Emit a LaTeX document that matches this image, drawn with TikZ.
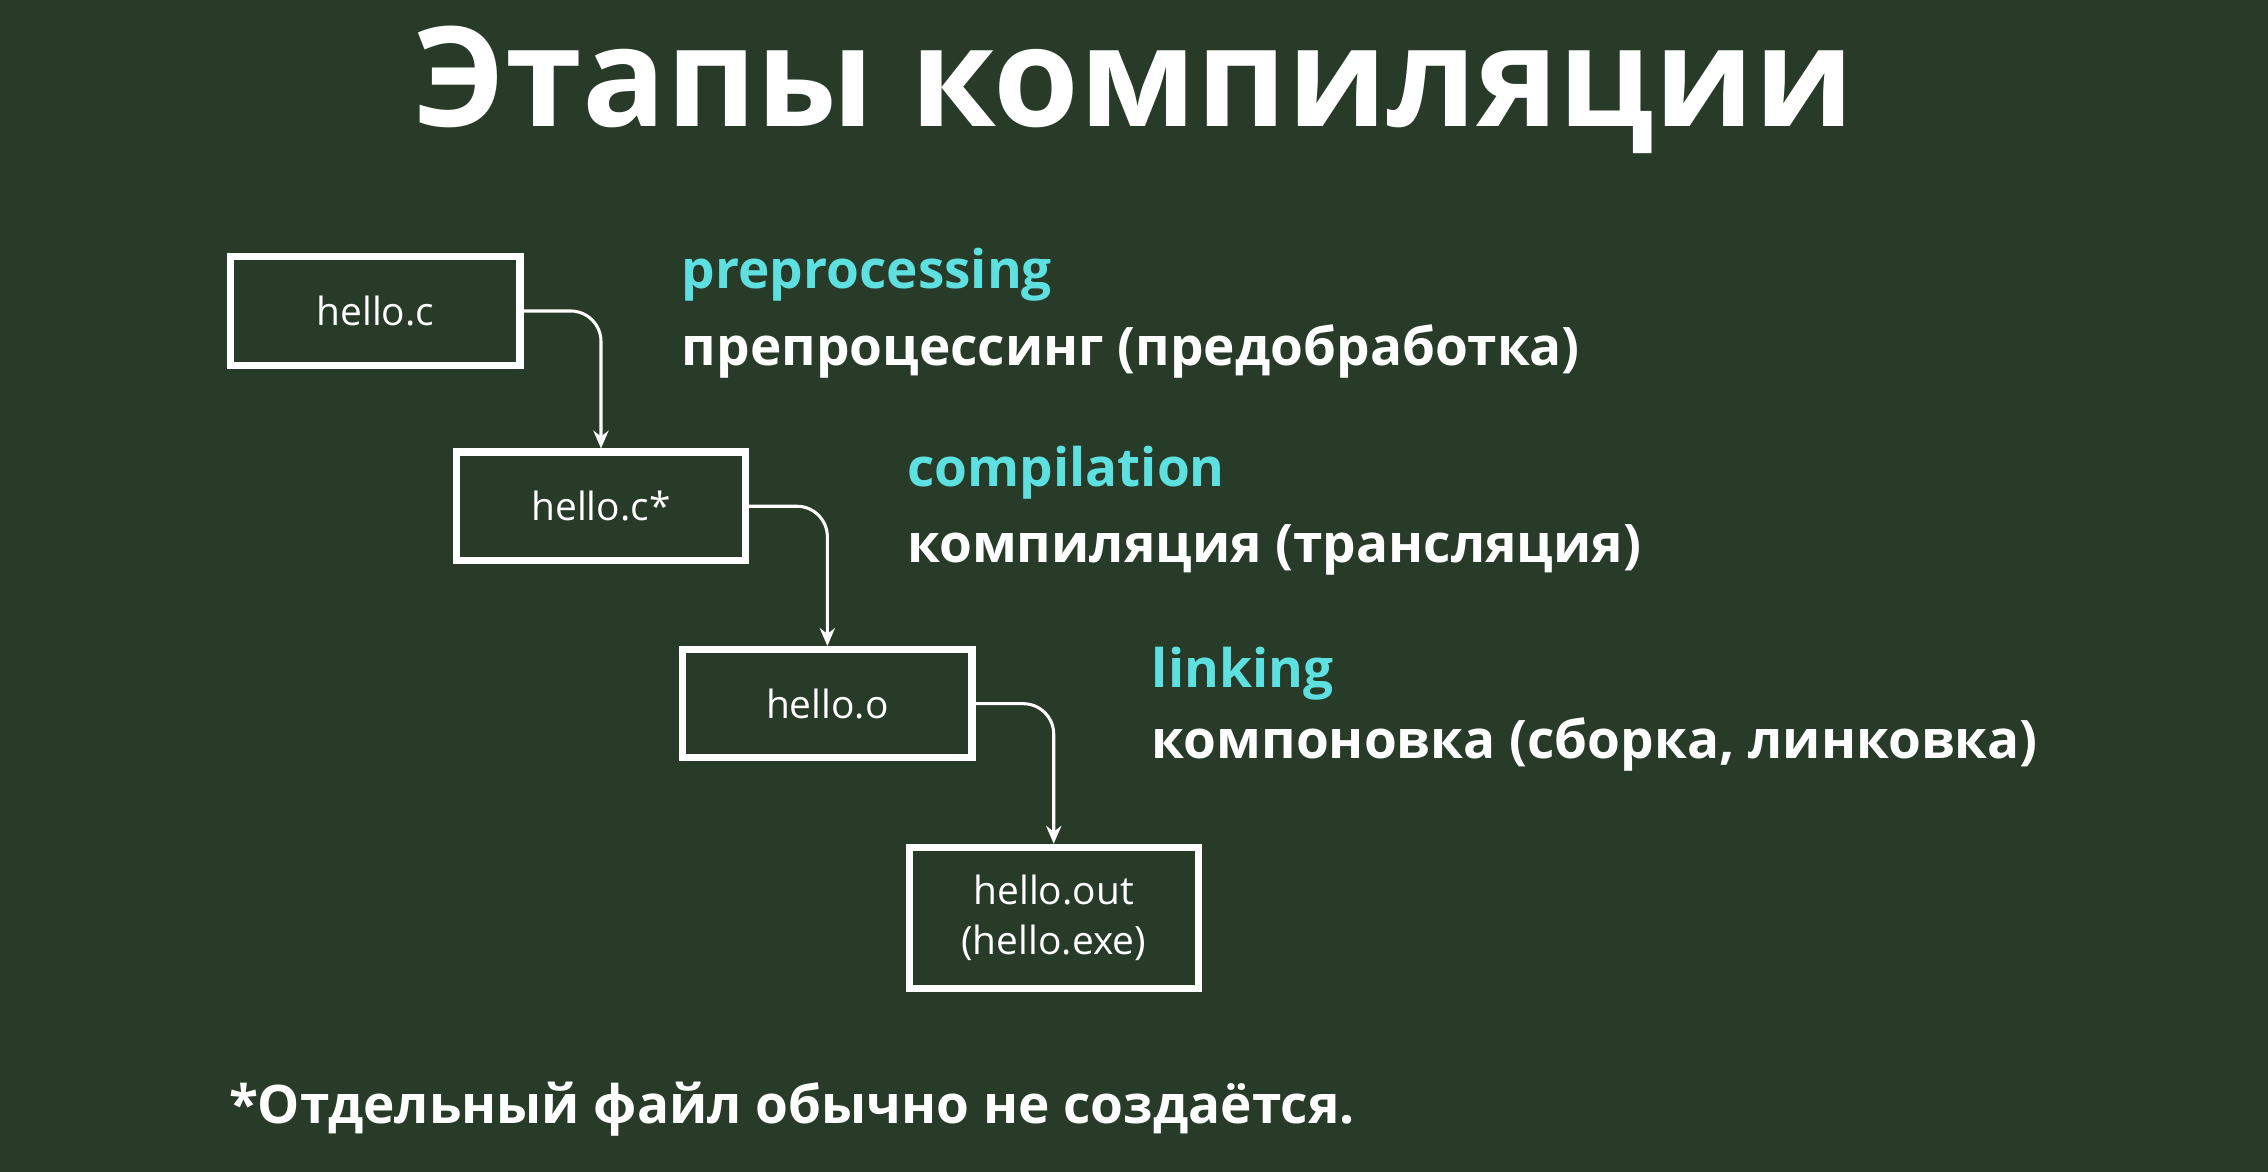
\documentclass[tikz,border=0pt]{standalone}
\usepackage{fontspec}
\setmainfont{Open Sans}
\usetikzlibrary{arrows.meta}
\definecolor{bg}{HTML}{283B29}
\definecolor{cy}{HTML}{5EE0E0}
\begin{document}
\begin{tikzpicture}[x=0.02cm,y=-0.02cm,
  fbox/.style={draw=white,line width=2.8pt,minimum width=4.0cm,minimum height=1.5cm,text=white,font=\fontsize{15.3}{19.5}\selectfont,align=center,inner sep=0pt},
  en/.style={anchor=west,text=cy,font=\bfseries\fontsize{20.9}{25}\selectfont,inner sep=0pt},
  ru/.style={anchor=west,text=white,font=\bfseries\fontsize{20.9}{25}\selectfont,inner sep=0pt},
  conn/.style={draw=white,line width=1.2pt,rounded corners=12pt,-{Stealth[length=7pt,width=6pt]}}]
\fill[bg] (0,0) rectangle (1568,810);
\useasboundingbox (0,0) rectangle (1568,810);
\node[text=white,font=\bfseries\fontsize{54.6}{60}\selectfont] (title) at (784,62) {Этапы компиляции};
\node[fbox] (a) at (259.5,215) {hello.c};
\node[fbox] (b) at (415.5,350) {hello.c*};
\node[fbox] (c) at (572,486.5) {hello.o};
\node[fbox,minimum height=1.95cm] (d) at (728.5,634.5) {hello.out\\(hello.exe)};
\draw[conn] (a.east) -| (b.north);
\draw[conn] (b.east) -| (c.north);
\draw[conn] (c.east) -| (d.north);
\node[en] (e1) at (471,190) {preprocessing};
\node[ru] (r1) at (471,243) {препроцессинг (предобработка)};
\node[en] (e2) at (627,327) {compilation};
\node[ru] (r2) at (627,380) {компиляция (трансляция)};
\node[en] (e3) at (796,466) {linking};
\node[ru] (r3) at (796,515) {компоновка (сборка, линковка)};
\node[ru] (foot) at (158,767) {*Отдельный файл обычно не создаётся.};
\end{tikzpicture}
\end{document}
